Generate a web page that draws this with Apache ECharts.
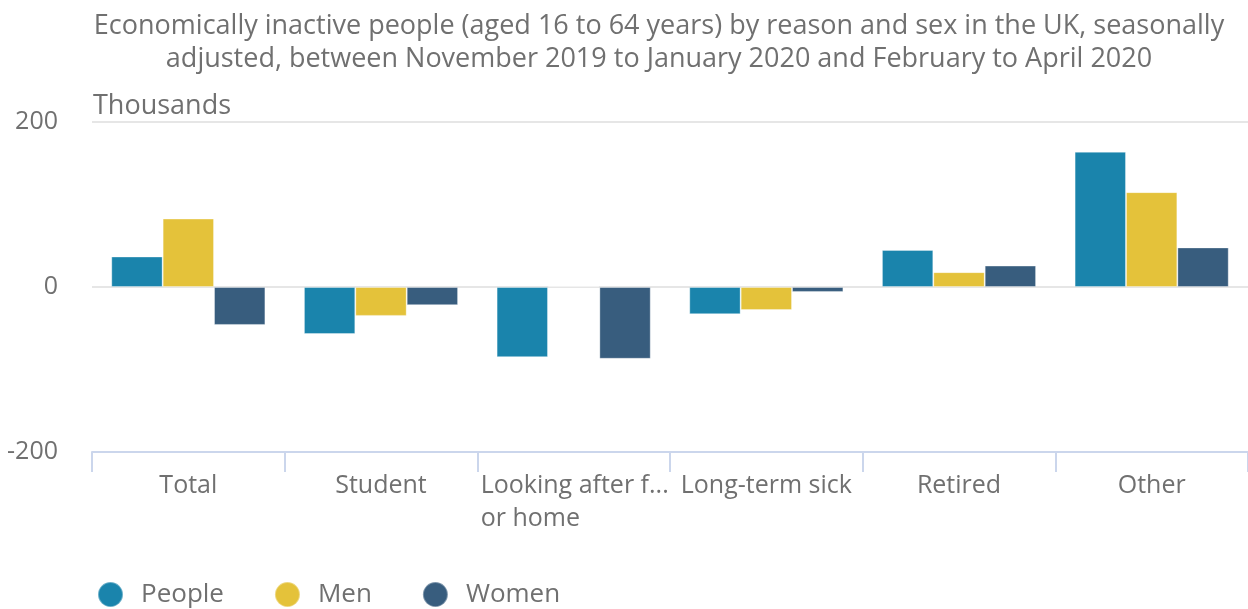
<!DOCTYPE html>
<html>
<head>
<meta charset="utf-8">
<script src="https://cdn.jsdelivr.net/npm/echarts@6/dist/echarts.min.js"></script>
<style>
    html, body { margin: 0; padding: 0; background: #fff; }
    #chart { width: 1248px; height: 609px; }
</style>
</head>
<body>
<div id="chart"></div>
<script>
    // 数据
    const categories = ['Total', 'Student', 'Looking after family or home', 'Long-term sick', 'Retired', 'Other'];
    const categoryLabels = ['Total', 'Student', 'Looking after f...\nor home', 'Long-term sick', 'Retired', 'Other'];
    const people = [37, -57, -85, -33, 45, 164];
    const men = [83, -35, 1, -28, 18, 115];
    const women = [-46, -22, -87, -6, 26, 48];
    const yTicks = [-200, 0, 200];

    const textColor = '#707070';
    const font = 'Open Sans';

    let myChart = echarts.init(document.getElementById('chart'));
    myChart.setOption({
        animation: false,
        textStyle: { fontFamily: font },
        title: {
            text: 'Economically inactive people (aged 16 to 64 years) by reason and sex in the UK, seasonally\nadjusted, between November 2019 to January 2020 and February to April 2020',
            left: 654,
            top: 5,
            textAlign: 'center',
            textStyle: {
                color: textColor,
                fontFamily: font,
                fontSize: 27,
                fontWeight: 'normal',
                lineHeight: 33
            }
        },
        graphic: [{
            type: 'text',
            left: 93,
            top: 93,
            style: {
                text: 'Thousands',
                fill: textColor,
                font: '27px "Open Sans"'
            }
        }],
        legend: {
            data: ['People', 'Men', 'Women'],
            left: 92,
            top: 576,
            icon: 'circle',
            itemWidth: 25,
            itemHeight: 25,
            itemGap: 50,
            textStyle: {
                color: textColor,
                fontFamily: font,
                fontSize: 26,
                padding: [0, 0, 0, 13]
            }
        },
        grid: {
            left: 92,
            right: 0,
            top: 122,
            bottom: 157,
            containLabel: false
        },
        xAxis: {
            type: 'category',
            data: categories,
            axisLine: { show: true, onZero: false, lineStyle: { color: '#cbd6ec', width: 2 } },
            axisTick: { show: true, length: 20, lineStyle: { color: '#cbd6ec', width: 2 } },
            axisLabel: {
                color: textColor,
                fontSize: 25,
                lineHeight: 33,
                margin: 17,
                interval: 0,
                formatter: function (v, i) {
                    let lines = categoryLabels[i].split('\n');
                    if (lines.length > 1) {
                        return lines.map(function (l) { return '{l|' + l + '}'; }).join('\n');
                    }
                    return categoryLabels[i];
                },
                rich: {
                    l: { width: 186, align: 'left', fontSize: 25, lineHeight: 33, color: textColor }
                }
            }
        },
        yAxis: {
            type: 'value',
            min: yTicks[0],
            max: yTicks[yTicks.length - 1],
            interval: 200,
            axisLine: { show: false },
            axisTick: { show: false },
            axisLabel: {
                color: textColor,
                fontSize: 25,
                margin: 34
            },
            splitLine: { lineStyle: { color: '#e6e6e6', width: 2 } }
        },
        series: [
            {
                name: 'People',
                type: 'bar',
                data: people,
                barGap: '0%',
                barCategoryGap: '20%',
                itemStyle: { color: '#1a84ac', borderColor: 'rgba(255,255,255,0.35)', borderWidth: 1 }
            },
            {
                name: 'Men',
                type: 'bar',
                data: men,
                itemStyle: { color: '#e4c23a', borderColor: 'rgba(255,255,255,0.35)', borderWidth: 1 }
            },
            {
                name: 'Women',
                type: 'bar',
                data: women,
                itemStyle: { color: '#385d7e', borderColor: 'rgba(255,255,255,0.35)', borderWidth: 1 }
            }
        ]
    });
</script>
</body>
</html>
